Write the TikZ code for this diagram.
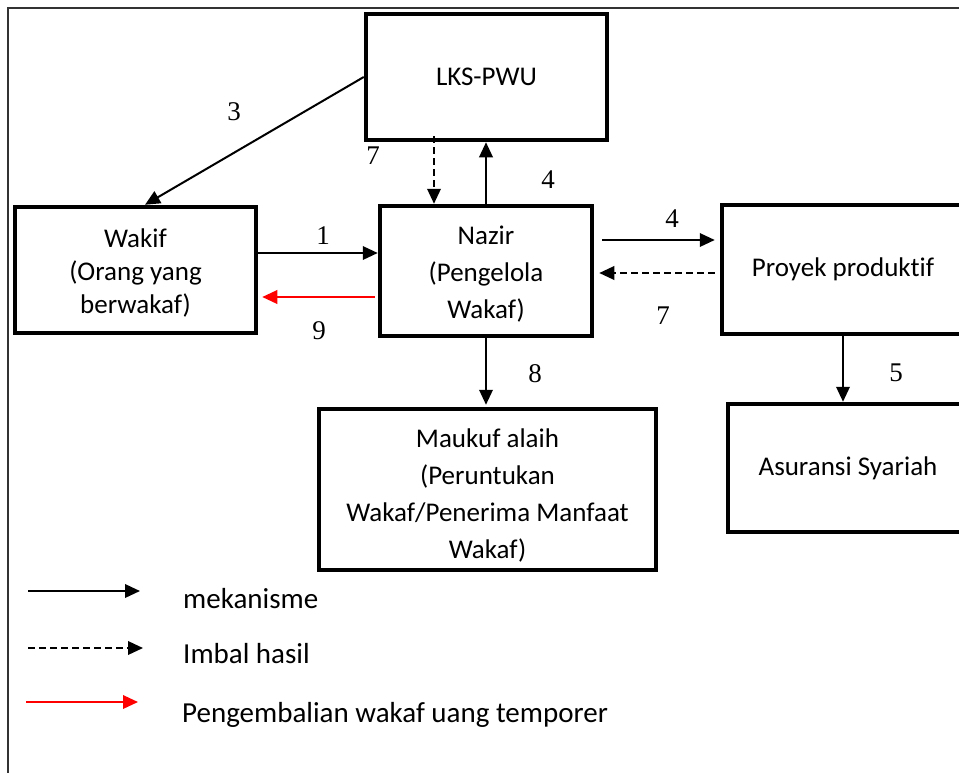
\documentclass[tikz,border=0pt]{standalone}
\usepackage{fontspec}
\setmainfont{Carlito}[Ligatures=NoCommon]
\newfontfamily\numfont{Liberation Serif}
\usetikzlibrary{arrows.meta}
\tikzset{
  box/.style={draw, line width=4.5pt, inner sep=0pt, outer sep=2.25pt, align=center,
    font=\fontsize{27}{33}\selectfont},
  boxtext/.style={inner sep=0pt, align=center, font=\fontsize{27}{33}\selectfont},
  num/.style={inner sep=0pt, font=\numfont\fontsize{27}{30}\selectfont},
  legtext/.style={anchor=base west, inner sep=0pt, font=\fontsize{29}{34}\selectfont},
  arr/.style={line width=2pt, -{Triangle[length=15pt,width=13.5pt]}},
  retarr/.style={arr, dash pattern=on 7pt off 4pt},
  redarr/.style={arr, draw=red},
  frame/.style={draw=black!80, line width=1.8pt}
}
\begin{document}
\begin{tikzpicture}[x=1pt,y=-1pt]
\useasboundingbox (0,0) rectangle (959,772);
\clip (0,0) rectangle (959,772);
\draw[frame] (8,8) rectangle (1000,820);

% boxes
\node[box, minimum width=241pt, minimum height=126pt] (lks) at (486.5,77) {LKS-PWU};
\node[box, minimum width=241pt, minimum height=126pt] (wakif) at (135.5,270) {};
\node[boxtext] (wakif-t) at ([yshift=-3pt]wakif.center) {Wakif\\(Orang yang\\berwakaf)};
\node[box, minimum width=212pt, minimum height=130pt] (nazir) at (486,271) {};
\node[boxtext, font=\fontsize{27}{37}\selectfont] (nazir-t) at ([yshift=-3.5pt]nazir.center) {Nazir\\(Pengelola\\Wakaf)};
\node[box, minimum width=242pt, minimum height=129pt] (proyek) at (843,269.5) {Proyek produkt\kern0pt if};
\node[box, minimum width=337pt, minimum height=161pt] (maukuf) at (487.5,489.5) {};
\node[boxtext, font=\fontsize{27}{37}\selectfont] (maukuf-t) at ([yshift=-6pt]maukuf.center) {Maukuf alaih\\(Peruntukan\\Wakaf/Penerima Manfaat\\Wakaf)};
\node[box, minimum width=240pt, minimum height=128pt] (asuransi) at (848,468) {Asuransi Syariah};

% connectors
\draw[arr] (lks.west) -- (145,0 |- wakif.north);
\draw[retarr] ([yshift=6pt]434,0 |- lks.south) -- (434,0 |- nazir.north);
\draw[arr] (486,0 |- nazir.north) -- (486,0 |- lks.south);
\draw[arr] (wakif.east |- 0,253) -- (nazir.west |- 0,253);
\draw[redarr] ([xshift=-3pt]nazir.west |- 0,297) -- ([xshift=4pt]wakif.east |- 0,297);
\draw[arr] ([xshift=8pt]nazir.east |- 0,240) -- ([xshift=-5pt]proyek.west |- 0,240);
\draw[retarr] ([xshift=-5pt]proyek.west |- 0,273) -- ([xshift=5pt]nazir.east |- 0,273);
\draw[arr] (486,0 |- nazir.south) -- ([yshift=2pt]486,0 |- maukuf.north);
\draw[arr] (843,0 |- proyek.south) -- (843,0 |- asuransi.north);

% number labels
\node[num] (n3) at (234,112) {3};
\node[num] (n7a) at (373,156) {7};
\node[num] (n4a) at (548,180) {4};
\node[num] (n1) at (323,236) {1};
\node[num] (n9) at (319,331) {9};
\node[num] (n4b) at (672,219) {4};
\node[num] (n7b) at (663,316) {7};
\node[num] (n8) at (535,374) {8};
\node[num] (n5) at (896,373) {5};

% legend
\coordinate (la1) at (28,591);
\coordinate (lb1) at (140,591);
\coordinate (la2) at (28,648);
\coordinate (lb2) at (143,648);
\coordinate (la3) at (26,702);
\coordinate (lb3) at (138,702);
\draw[arr] (la1) -- (lb1);
\draw[retarr] (la2) -- (lb2);
\draw[redarr] (la3) -- (lb3);
\node[legtext] (t1) at (183,608) {mekanisme};
\node[legtext] (t2) at (183,663) {Imbal hasil};
\node[legtext] (t3) at (182,722) {Pengembalian wakaf uang temporer};
\end{tikzpicture}
\end{document}
